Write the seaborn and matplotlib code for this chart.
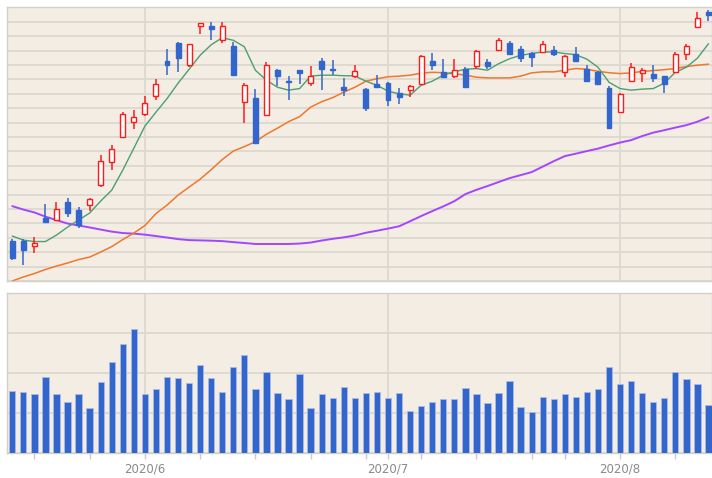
import matplotlib
matplotlib.use("Agg")
import matplotlib.pyplot as plt
from matplotlib.ticker import MultipleLocator, FixedLocator, NullFormatter
import numpy as np
import pandas as pd
import seaborn as sns

# Trading days (Tokyo market, holidays skipped)
dates = [
    "2020-05-14", "2020-05-15", "2020-05-18", "2020-05-19", "2020-05-20", "2020-05-21",
    "2020-05-22", "2020-05-25", "2020-05-26", "2020-05-27", "2020-05-28", "2020-05-29",
    "2020-06-01", "2020-06-02", "2020-06-03", "2020-06-04", "2020-06-05", "2020-06-08",
    "2020-06-09", "2020-06-10", "2020-06-11", "2020-06-12", "2020-06-15", "2020-06-16",
    "2020-06-17", "2020-06-18", "2020-06-19", "2020-06-22", "2020-06-23", "2020-06-24",
    "2020-06-25", "2020-06-26", "2020-06-29", "2020-06-30",
    "2020-07-01", "2020-07-02", "2020-07-03", "2020-07-06", "2020-07-07", "2020-07-08",
    "2020-07-09", "2020-07-10", "2020-07-13", "2020-07-14", "2020-07-15", "2020-07-16",
    "2020-07-17", "2020-07-20", "2020-07-21", "2020-07-22", "2020-07-27", "2020-07-28",
    "2020-07-29", "2020-07-30", "2020-07-31",
    "2020-08-03", "2020-08-04", "2020-08-05", "2020-08-06", "2020-08-07", "2020-08-11",
    "2020-08-12", "2020-08-13", "2020-08-14",
]

open_ = [
    627.7, 627.7, 624.5, 644.0, 642.3, 654.6, 649.6, 652.7, 666.4, 682.3,
    700.2, 710.3, 715.6, 728.5, 752.6, 765.1, 750.1, 777.1, 777.1, 767.3,
    763.2, 724.3, 727.3, 715.1, 746.5, 738.7, 746.3, 737.3, 752.6, 747.5,
    734.9, 742.0, 733.6, 736.6, 737.7, 730.2, 732.9, 737.1, 752.6, 744.9,
    742.5, 747.5, 749.4, 751.9, 760.7, 765.5, 760.9, 758.6, 759.0, 760.4,
    745.2, 757.4, 747.2, 744.9, 734.3, 717.0, 738.9, 744.5, 744.0, 742.2,
    745.2, 757.3, 776.4, 786.8,
]
high = [
    628.9, 628.9, 630.3, 653.2, 654.8, 657.4, 651.1, 657.4, 687.4, 694.1,
    717.2, 718.6, 728.3, 740.3, 761.4, 766.0, 764.7, 779.4, 779.8, 779.6,
    766.0, 737.8, 733.5, 751.7, 747.5, 742.2, 746.5, 749.1, 754.7, 753.7,
    741.1, 749.8, 734.0, 742.9, 738.5, 734.2, 735.9, 757.1, 758.1, 754.4,
    754.4, 748.8, 760.2, 754.4, 769.0, 766.8, 763.2, 759.3, 766.4, 762.8,
    757.1, 762.5, 749.8, 746.0, 735.2, 730.7, 751.0, 748.2, 749.8, 742.4,
    759.0, 764.4, 786.8, 787.9,
]
low = [
    614.6, 611.1, 619.2, 640.6, 641.6, 644.4, 636.5, 648.8, 665.4, 677.0,
    699.0, 705.8, 714.4, 725.7, 743.3, 745.2, 748.4, 771.6, 767.1, 765.4,
    743.0, 709.4, 695.8, 714.4, 735.2, 725.7, 737.1, 735.2, 732.9, 743.2,
    728.3, 740.8, 718.2, 733.8, 721.4, 723.1, 727.8, 736.3, 746.3, 741.2,
    741.2, 734.5, 747.4, 747.2, 760.2, 756.9, 751.9, 748.4, 758.1, 756.2,
    741.7, 752.4, 738.0, 736.3, 705.7, 716.3, 738.2, 738.2, 738.2, 730.2,
    744.7, 753.3, 775.7, 780.5,
]
close = [
    615.7, 621.5, 626.7, 640.9, 650.1, 647.2, 638.8, 656.9, 683.4, 691.5,
    715.8, 713.9, 723.7, 736.6, 750.3, 754.7, 764.2, 779.4, 775.0, 776.8,
    743.3, 735.9, 696.1, 749.8, 742.2, 738.0, 744.3, 742.0, 747.5, 746.7,
    732.5, 746.1, 719.8, 734.5, 726.0, 727.8, 735.7, 756.0, 750.3, 741.5,
    746.8, 734.7, 759.5, 749.6, 767.3, 757.9, 755.0, 755.3, 764.8, 757.3,
    756.0, 752.6, 739.0, 737.1, 705.9, 729.5, 748.6, 746.3, 740.6, 736.5,
    757.9, 763.0, 782.9, 784.5,
]

# Moving averages (5 / 25 / 75 day)
ma5 = [
    631.2, 628.4, 627.4, 627.4, 631.9, 637.4, 642.3, 647.2, 655.5, 663.1,
    677.0, 692.2, 707.5, 717.2, 726.6, 737.3, 747.0, 756.7, 764.0, 768.9,
    767.1, 762.6, 746.3, 739.4, 734.5, 732.5, 733.6, 742.2, 742.9, 742.9,
    742.5, 742.4, 738.7, 735.9, 731.8, 730.0, 729.0, 735.9, 738.7, 742.9,
    745.3, 747.0, 747.5, 746.3, 750.8, 754.3, 756.7, 757.9, 759.0, 759.0,
    757.9, 757.1, 754.0, 748.4, 738.0, 733.6, 732.5, 733.2, 733.6, 737.3,
    744.9, 748.4, 754.7, 764.7,
]
ma25 = [
    600.0, 602.8, 605.2, 608.0, 610.4, 612.5, 614.9, 616.6, 620.1, 623.9,
    628.8, 633.3, 638.5, 646.8, 652.7, 659.6, 665.2, 670.7, 677.3, 684.3,
    690.2, 693.3, 696.7, 701.9, 706.1, 710.6, 714.1, 720.7, 724.5, 727.3,
    731.1, 734.5, 738.7, 740.4, 741.8, 742.2, 742.9, 744.3, 744.9, 744.6,
    743.9, 742.9, 741.5, 741.0, 741.0, 741.0, 742.2, 744.5, 745.2, 745.2,
    746.3, 747.5, 747.0, 745.6, 744.6, 744.0, 744.5, 745.5, 746.1, 746.7,
    747.5, 748.9, 749.8, 750.5,
]
ma75 = [
    652.0, 649.6, 647.6, 644.7, 642.3, 639.9, 638.5, 637.2, 635.7, 634.3,
    633.3, 632.9, 632.2, 631.2, 630.2, 629.1, 628.4, 628.2, 628.0, 627.7,
    627.0, 626.4, 625.7, 625.7, 625.7, 625.7, 626.0, 626.7, 628.1, 629.3,
    630.3, 631.6, 633.5, 634.9, 636.4, 638.0, 641.5, 645.1, 648.5, 651.8,
    655.4, 660.3, 663.3, 665.9, 668.7, 671.4, 673.5, 675.6, 679.4, 683.2,
    686.7, 688.4, 690.2, 691.9, 694.1, 696.1, 697.8, 700.6, 703.0, 704.7,
    706.5, 708.2, 710.6, 713.7,
]

# Daily volume (thousand shares)
volume = [
    155.8, 152.5, 147.5, 190.0, 147.5, 127.5, 147.5, 112.5, 178.3, 228.3,
    272.5, 310.8, 147.5, 160.0, 190.0, 186.7, 175.0, 219.2, 186.7, 152.5,
    215.8, 244.2, 160.0, 202.5, 150.0, 134.2, 197.5, 112.5, 147.5, 137.5,
    165.0, 137.5, 150.0, 152.5, 137.5, 150.0, 105.8, 118.3, 127.5, 134.2,
    134.2, 162.5, 147.5, 125.0, 150.0, 180.8, 115.0, 102.5, 140.0, 134.2,
    147.5, 140.0, 152.5, 160.0, 215.8, 172.5, 180.8, 150.0, 127.5, 137.5,
    202.5, 184.2, 172.5, 120.8,
]

df = pd.DataFrame({
    "date": pd.to_datetime(dates), "open": open_, "high": high, "low": low,
    "close": close, "ma5": ma5, "ma25": ma25, "ma75": ma75, "volume": volume,
})
df["pos"] = np.arange(len(df))

sns.set_style("white")
plt.rcParams["font.family"] = ["DejaVu Sans"]

BG = "#F3EDE4"
GRID = "#DCD8D1"
SPINE = "#D3CFC9"
UP = "#FF1A1A"
DOWN = "#3366CC"

fig = plt.figure(figsize=(7.12, 4.78), dpi=100)
fig.patch.set_facecolor("white")
ax = fig.add_axes([0.0098, 0.4121, 0.9902, 0.5726])
axv = fig.add_axes([0.0098, 0.0523, 0.9902, 0.3347])

# month boundaries and first trading day of each week
month_start = df.index[df["date"].dt.month.diff().fillna(1) != 0].tolist()[1:]
week_start = df.index[df["date"].dt.isocalendar().week.diff().fillna(1) != 0].tolist()[1:]

for a in (ax, axv):
    a.set_facecolor(BG)
    a.set_xlim(-0.48, 63.32)
    for s in a.spines.values():
        s.set_color(SPINE)
        s.set_linewidth(1.0)
    for m in month_start:
        a.axvline(m, color=GRID, lw=1.3, zorder=0.5)

# price panel grid
ax.set_ylim(600, 790)
ax.yaxis.set_major_locator(MultipleLocator(10))
ax.grid(axis="y", color=GRID, lw=1.3, zorder=0.5)
ax.set_axisbelow(True)
ax.tick_params(left=False, bottom=False, labelleft=False, labelbottom=False)

# moving averages
sns.lineplot(data=df, x="pos", y="ma75", ax=ax, color="#A346FF", lw=1.4, zorder=2)
sns.lineplot(data=df, x="pos", y="ma25", ax=ax, color="#F0772B", lw=1.1, zorder=2)
sns.lineplot(data=df, x="pos", y="ma5", ax=ax, color="#4E9E72", lw=1.0, zorder=2)

# candlesticks
up = df["close"] >= df["open"]
wick_col = np.where(up, UP, DOWN)
ax.vlines(df["pos"], df["low"], df["high"], colors=wick_col, lw=1.1, zorder=3)
body_lo = np.minimum(df["open"], df["close"])
body_h = np.maximum((df["close"] - df["open"]).abs(), 0.4)
ax.bar(df["pos"], body_h, bottom=body_lo, width=0.45,
       color=np.where(up, "white", DOWN), edgecolor=wick_col, linewidth=1.0, zorder=4)
ax.set_xlabel("")
ax.set_ylabel("")

# volume panel
sns.barplot(data=df, x="pos", y="volume", ax=axv, color=DOWN, saturation=1,
            width=0.57, errorbar=None, edgecolor="#A9BCE8", linewidth=0.6,
            native_scale=True, zorder=3)
axv.set_xlim(-0.48, 63.32)
axv.set_ylim(0, 400)
axv.yaxis.set_major_locator(MultipleLocator(100))
axv.grid(axis="y", color=GRID, lw=1.3, zorder=0.5)
axv.set_axisbelow(True)
axv.tick_params(left=False, labelleft=False)
axv.xaxis.set_major_locator(FixedLocator(month_start))
axv.set_xticklabels([f"{d.year}/{d.month}" for d in df["date"].iloc[month_start]])
axv.xaxis.set_minor_locator(FixedLocator(week_start))
axv.xaxis.set_minor_formatter(NullFormatter())
axv.tick_params(axis="x", which="both", bottom=True, direction="out", length=4,
                width=1.0, color="#CFCBC5", labelsize=8.5, labelcolor="#8A8A8A", pad=3)
axv.set_xlabel("")
axv.set_ylabel("")

fig.savefig("out.png", dpi=100, facecolor="white")
